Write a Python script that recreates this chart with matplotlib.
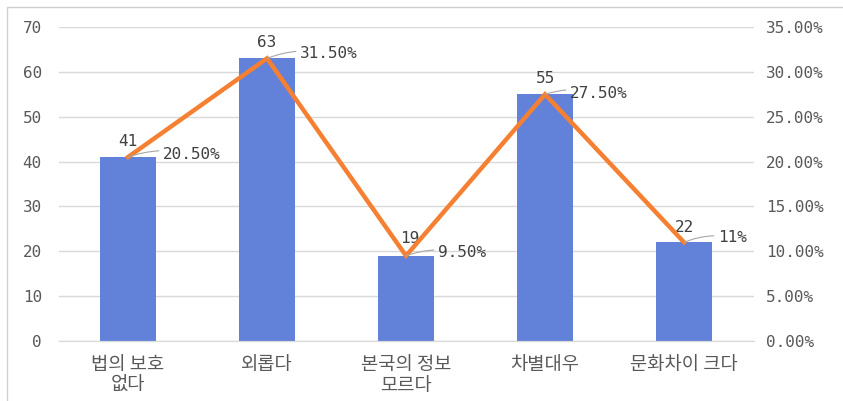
import numpy as np
import matplotlib.pyplot as plt
from matplotlib.patches import Rectangle
from matplotlib.ticker import FuncFormatter

categories = ['법의 보호\n없다', '외롭다', '본국의 정보\n모르다', '차별대우', '문화차이 크다']
counts = [41, 63, 19, 55, 22]
shares = [20.5, 31.5, 9.5, 27.5, 11.0]
share_labels = ['20.50%', '31.50%', '9.50%', '27.50%', '11%']

bar_color = '#6182D8'
line_color = '#F58032'
grid_color = '#D9D9D9'
text_color = '#595959'
num_font = ['DejaVu Sans Mono']
kr_font = ['Noto Sans CJK KR', 'DejaVu Sans']

fig = plt.figure(figsize=(8.43, 4.01), dpi=100)
fig.patches.append(Rectangle((7 / 843, -0.01), 1.02, 1 - 7 / 401 + 0.01,
                             transform=fig.transFigure, fill=False,
                             edgecolor='#D0D0D0', lw=1))
ax = fig.add_axes([0.0694, 0.1496, 0.8245, 0.7831])
ax2 = ax.twinx()

x = np.arange(len(categories))
ax.bar(x, counts, width=0.4, color=bar_color, zorder=2)
ax.set_xlim(-0.5, len(categories) - 0.5)
ax.set_ylim(0, 70)
ax.set_yticks(range(0, 71, 10))
ax.grid(axis='y', color=grid_color, lw=1, zorder=0)
ax.set_axisbelow(True)

ax2.plot(x, shares, color=line_color, lw=3.2, zorder=3,
         solid_joinstyle='miter')
ax2.set_ylim(0, 35)
ax2.set_yticks(range(0, 36, 5))
ax2.yaxis.set_major_formatter(FuncFormatter(lambda v, p: f'{v:.2f}%'))

for a in (ax, ax2):
    for s in ('top', 'left', 'right'):
        a.spines[s].set_visible(False)
    a.spines['bottom'].set_color(grid_color)
    a.tick_params(length=0, colors=text_color)

ax.tick_params(axis='y', pad=12)
ax2.tick_params(axis='y', pad=9)
for lab in ax.get_yticklabels() + ax2.get_yticklabels():
    lab.set_family(num_font)
    lab.set_fontsize(11.5)

ax.set_xticks(x)
ax.set_xticklabels(categories, family=kr_font, fontsize=13.5,
                   color=text_color, linespacing=1.0)
ax.tick_params(axis='x', pad=9)

# bar value labels
num_offsets = [(0, 8), (0, 8), (4, 10), (0, 8), (0, 7)]
for xi, c, off in zip(x, counts, num_offsets):
    ax.annotate(str(c), (xi, c), xytext=off, textcoords='offset pixels',
                ha='center', va='bottom', family=num_font, fontsize=11.5,
                color='#404040', zorder=5)

# line value labels with leader lines
pct_offsets = [(35, 3), (33, 5), (32, 3), (25, 1), (34, 5)]
for xi, s, lab, off in zip(x, shares, share_labels, pct_offsets):
    ax2.annotate(lab, (xi, s), xytext=off, textcoords='offset pixels',
                 ha='left', va='center', family=num_font, fontsize=11.5,
                 color='#404040', zorder=5,
                 arrowprops=dict(arrowstyle='-', color='#A6A6A6', lw=0.8,
                                 shrinkA=1, shrinkB=0,
                                 connectionstyle='arc3,rad=0.15'))

fig.savefig('out.png', dpi=100)
